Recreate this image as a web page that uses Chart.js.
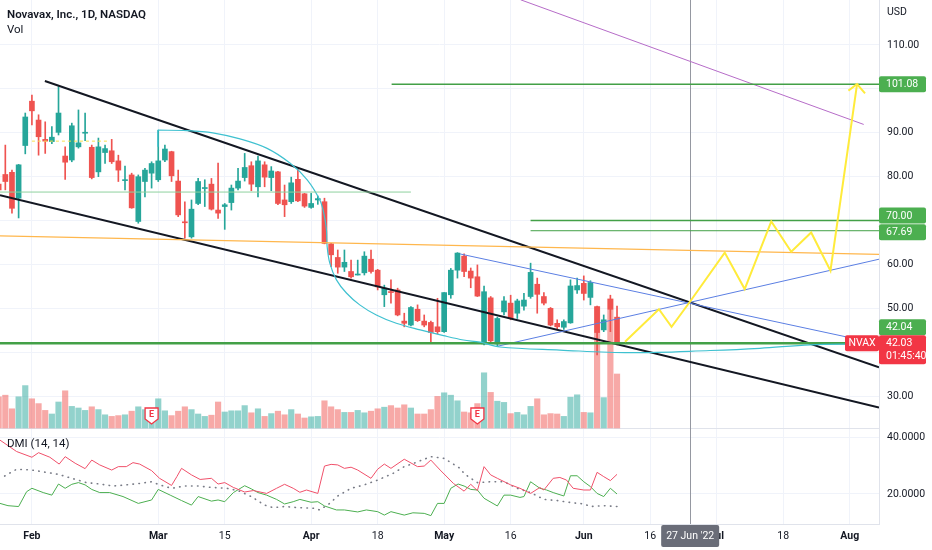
<!DOCTYPE html>
<html>
<head>
<meta charset="utf-8">
<script src="https://cdn.jsdelivr.net/npm/chart.js@4.4.1/dist/chart.umd.min.js"></script>
<style>
  html, body { margin: 0; padding: 0; background: #fff; }
  #wrap { width: 932px; height: 550px; }
</style>
</head>
<body>
<div id="wrap"><canvas id="chart" width="932" height="550"></canvas></div>
<script>
// x values are trading-day indexes, 0 = 1 Feb 2022
const firstBar = -5;
const opens  = [78.3,80.5,81.0,75.1,87.1,97.2,92.9,88.5,88.0,90.1,84.7,83.8,86.8,89.9,86.7,81.1,85.5,85.9,83.6,79.1,80.4,69.8,78.9,80.8,79.3,83.8,85.7,79.0,69.7,66.3,73.9,77.3,78.3,72.4,73.2,74.1,77.4,79.8,82.5,77.7,82.7,79.8,81.1,74.7,74.3,79.4,76.1,73.0,74.7,74.3,64.7,61.6,59.4,58.4,57.6,58.1,61.2,58.7,53.1,53.8,54.2,47.1,46.2,49.8,47.1,46.8,45.8,44.7,53.1,58.7,61.9,58.5,57.2,41.9,52.4,41.9,49.2,51.2,48.9,50.5,52.7,55.5,52.7,50.0,46.6,45.7,46.7,54.2,55.7,52.5,50.4,45.1,52.1,48.0];
const highs  = [78.8,87.2,81.5,82.8,94.5,98.6,94.1,92.5,91.4,100.5,86.8,92.2,95.2,94.5,87.2,88.8,87.2,88.5,84.9,82.4,80.8,80.4,81.9,83.4,90.6,87.2,85.8,81.5,74.3,74.7,79.6,79.3,79.6,83.1,73.9,78.1,81.9,85.3,83.4,84.7,83.4,82.3,81.2,78.1,79.9,81.7,76.2,76.2,75.6,75.1,64.8,63.3,63.3,61.0,61.0,62.9,63.3,58.9,55.3,56.5,54.6,48.9,50.4,50.8,48.5,47.1,52.3,53.6,59.1,62.7,62.4,59.2,59.9,55.1,52.7,48.0,52.7,53.0,52.1,53.4,60.3,56.9,53.6,50.2,47.4,47.4,56.5,56.9,57.4,56.3,50.5,48.5,53.0,50.5];
const lows   = [76.5,77.0,71.7,70.6,85.2,91.8,84.9,85.3,87.5,89.5,79.4,83.4,86.5,88.2,79.5,80.0,83.0,83.0,78.9,77.0,72.8,69.4,75.4,77.4,78.9,83.4,78.9,70.9,66.0,66.0,73.6,73.2,72.4,70.5,68.0,72.4,77.0,79.0,76.8,75.4,77.7,76.8,73.6,70.9,73.9,74.3,73.0,72.8,73.7,64.7,59.5,58.0,58.4,56.9,57.6,57.6,58.0,54.2,50.4,51.2,48.3,45.8,46.0,47.0,45.8,42.1,44.2,44.5,52.3,56.9,57.2,54.7,52.7,41.7,42.4,41.4,48.5,47.4,47.7,49.6,52.3,48.9,50.8,46.0,45.2,45.2,46.6,53.4,51.9,50.8,39.4,44.7,44.7,41.7];
const closes = [77.0,78.9,72.8,82.7,93.6,95.0,89.1,88.1,89.0,94.5,83.3,91.6,87.7,90.1,79.8,86.8,86.4,83.4,81.5,79.3,72.9,80.0,81.5,83.0,83.6,86.3,80.2,71.3,69.5,72.6,78.9,77.5,72.6,71.7,73.6,77.4,79.0,82.1,78.3,83.6,79.9,81.3,73.9,73.6,78.6,74.5,73.3,73.9,75.0,64.8,62.2,59.4,60.5,57.2,57.8,61.9,58.4,54.9,54.6,53.6,48.5,46.6,50.2,47.2,46.2,44.5,44.7,53.6,58.7,62.6,58.4,56.9,52.8,53.8,42.6,47.7,51.7,47.7,51.7,51.9,58.2,53.2,51.2,46.2,45.8,47.0,55.1,55.2,53.4,55.9,44.5,47.4,49.8,42.03];
// volume, millions of shares
const volumes = [7.8,8.2,4.8,7.8,10.6,7.3,6.1,4.4,3.5,6.5,9.3,5.4,5.0,4.4,5.3,4.6,3.3,2.9,3.1,3.3,4.2,5.3,4.6,3.8,7.3,4.3,3.1,4.2,5.3,4.6,3.5,2.9,3.2,6.5,4.0,4.3,4.3,5.6,3.8,4.8,2.9,3.6,4.2,3.3,4.6,3.5,2.5,2.8,2.9,6.8,5.3,4.6,3.9,3.9,4.4,3.8,4.2,4.8,5.2,5.6,5.0,5.8,5.0,3.5,3.5,4.6,7.9,8.8,8.2,6.8,4.0,3.8,6.1,13.8,8.9,6.7,6.4,3.6,3.9,3.3,5.4,7.3,3.3,3.6,3.5,2.9,7.7,8.3,3.9,3.8,30.3,7.6,32.3,13.5];

// DMI (14, 14): [index, value]
const plusDI = [[-4.8,38.9],[-2.3,34.9],[0,32.9],[1,34.5],[2.7,32.9],[4.1,30.5],[5,33.1],[6.5,30.8],[8,28.9],[9,31.9],[10.2,30.2],[12,28.4],[13,29.6],[14.2,29.6],[15.2,31.0],[16.2,30.5],[18,28.2],[19.2,25.5],[21,23.0],[21.8,26.1],[22.5,29.0],[24,26.7],[25.3,25.1],[27,25.5],[28,23.5],[29,24.0],[30.3,22.3],[32,20.7],[33.3,21.2],[35.3,20.2],[36.8,22.0],[38,23.4],[39.3,22.0],[40.3,20.6],[41.3,21.4],[43,20.2],[44,29.8],[45,30.4],[46,30.2],[47,29.0],[48,29.4],[49,28.4],[51,25.5],[52,28.7],[53,30.5],[54,29.0],[56,32.2],[58,29.6],[59,29.8],[60,31.9],[61.4,28.4],[63.4,23.7],[65,21.0],[66,23.4],[67,21.2],[68,29.6],[69,26.7],[70,25.5],[72,23.2],[73.4,22.0],[75,20.2],[76.4,22.3],[77,21.4],[78.4,25.5],[79.4,25.8],[80.4,24.9],[81.4,22.0],[83,21.4],[84,21.4],[85,27.6],[86,26.1],[87,24.7],[88,26.9]];
const minusDI = [[-4.8,16.7],[-3.6,15.9],[-2,15.6],[-0.8,20.8],[0,22.0],[1.7,20.5],[3,19.6],[4,23.5],[5,22.0],[6,23.4],[7,24.0],[8,23.2],[9,21.6],[10.2,20.5],[11.7,20.5],[13.7,19.1],[16,16.7],[18,17.9],[19,21.6],[20.8,19.6],[22.5,17.7],[24,16.1],[25,19.1],[27,17.5],[28,17.9],[29,17.3],[30.3,20.5],[32,22.9],[33,21.8],[34,20.5],[35.3,19.6],[36.8,18.1],[38,16.5],[39.3,17.3],[40.3,18.1],[42,17.1],[43,17.3],[44,15.8],[45.8,14.4],[47,14.4],[49,13.7],[50.3,14.4],[52,13.8],[53,12.6],[54,13.8],[56,12.6],[57.3,13.4],[59,13.2],[60,12.4],[61,16.7],[62,16.7],[63,22.0],[64.1,23.5],[65,22.8],[66,21.6],[67,21.4],[68,18.5],[70,15.8],[71,19.6],[72,19.6],[73.4,18.8],[74,19.1],[75,24.3],[76.4,22.0],[77.4,21.4],[78.4,20.5],[80,19.3],[81,26.4],[82,26.4],[83,24.3],[84,22.6],[85,20.2],[86,19.1],[87,22.0],[88,20.0]];
const adx = [[-4.1,26.3],[-2.3,28.7],[0,28.4],[4,26.9],[6,25.5],[8.2,24.0],[10.2,23.5],[12.2,22.8],[14.2,23.2],[16.2,23.7],[18,24.3],[19.2,23.2],[21,22.0],[23,22.8],[25,22.8],[27,22.3],[29.3,22.0],[31,21.2],[33,19.1],[35,16.1],[36.3,15.2],[38,15.6],[40,15.2],[42.3,15.0],[43.3,14.4],[44.8,16.7],[46,19.3],[48,22.0],[50,23.2],[52,24.9],[54.3,27.2],[56,29.6],[58,31.3],[60,33.1],[62,32.5],[64.4,29.0],[65,27.2],[66,25.5],[67,24.0],[69,24.3],[71,24.3],[73,22.0],[75,20.5],[77,18.1],[79,17.7],[81,17.0],[83,16.5],[84,15.6],[86,15.9],[88,15.6]];

// axis ticks
const tickIdx    = [0, 19, 29, 42, 52, 62, 72, 83, 93, 103, 113, 123];
const tickLabels = ['Feb', 'Mar', '15', 'Apr', '18', 'May', '16', 'Jun', '16', 'Jul', '18', 'Aug'];
const priceTicks = [30, 40, 50, 60, 70, 80, 90, 100, 110];
const dmiTicks   = [20, 40];

// drawn levels (horizontal lines with axis tags)
const levels     = [101.08, 70.00, 67.69, 42.04];
const levelStart = [54.1, 75, 75, -4.8];
const levelWidth = [1.5, 1.5, 1, 2.5];
const tagShift   = [0, -5, 1.5, -16];   // tags nudged apart where they collide
const earningsIdx = [18, 67];
const cursorIdx = 99;
const cursorLabel = "27 Jun '22";
const countdown = '01:45:40';

// trend drawings: [index, price]
const blackUpper = [[1.95, 101.8], [127.4, 36.6]];
const blackLower = [[-4.8, 75.8], [127.4, 27.4]];
const orangeLine = [[-4.8, 66.5], [127.4, 62.3]];
const thinGreen  = [[-4.8, 76.5], [57, 76.5]];
const yellowDash = [[0, 88.1], [11.7, 88.1]];
const blueUpper  = [[64.4, 62.4], [122.5, 43.5]];
const blueLower  = [[70.1, 41.4], [127.4, 61.2]];
const purpleLine = [[73.5, 120.3], [125.1, 91.9]];
const cyanTick   = [[18.95, 86.8], [18.95, 90.6]];
const cyanArc    = [[18.95,90.6],[23.3,90.5],[27.2,90.0],[31.3,88.6],[35.3,86.5],[38.8,83.1],[41.4,79.3],[43.3,74.7],[43.9,71.7],[44.3,67.9],[44.4,64.1],[44.8,60.3],[45.8,56.5],[47.3,53.5],[49.3,50.8],[51.8,48.5],[54.8,46.6],[58.4,45.1],[61.9,43.8],[64.9,42.8],[67.4,42.3],[70.4,41.2],[79.4,40.5],[89.9,39.9],[102,40.4],[109.5,40.9],[117,41.7],[124.5,41.9]];
const yellowPath = [[89.2,42.4],[94.3,49.8],[96.2,45.8],[99.1,51.8],[104.2,62.7],[107.2,54.4],[111.2,69.8],[114.2,62.9],[117.2,67.3],[120.1,58.6],[124.1,101.1]];
const arrowHead  = [[122.8,99.6],[124.1,101.1],[125.3,99.0]];

const FONT = 'Roboto, "Noto Sans", sans-serif';
const UP = '#26a69a', DOWN = '#ef5350';
const GREEN = '#4caf50';

const isUp = opens.map((o, i) => closes[i] >= o);
const pts = arr => arr.map(([x, y]) => ({ x, y }));

function drawing(points, color, width, extra) {
  return Object.assign({
    type: 'line', data: pts(points), borderColor: color, borderWidth: width,
    pointRadius: 0, tension: 0, fill: false, yAxisID: 'yPrice', order: 2
  }, extra || {});
}

const datasets = [
  {
    type: 'bar', label: 'Vol', yAxisID: 'yVol', order: 20, grouped: false, barThickness: 5.5,
    data: volumes.map((v, i) => ({ x: firstBar + i, y: v })),
    backgroundColor: isUp.map(u => u ? 'rgba(38,166,154,0.5)' : 'rgba(239,83,80,0.5)')
  },
  {
    type: 'bar', label: 'wick', yAxisID: 'yPrice', order: 9, grouped: false, barThickness: 1,
    data: lows.map((l, i) => ({ x: firstBar + i, y: [l, highs[i]] })),
    backgroundColor: isUp.map(u => u ? UP : DOWN)
  },
  {
    type: 'bar', label: 'body', yAxisID: 'yPrice', order: 8, grouped: false, barThickness: 5, minBarLength: 1,
    data: opens.map((o, i) => ({ x: firstBar + i, y: [o, closes[i]] })),
    backgroundColor: isUp.map(u => u ? UP : DOWN)
  },
  drawing(thinGreen, '#8fd19e', 1),
  drawing(yellowDash, '#f7e04b', 1, { borderDash: [3, 3] }),
  drawing(orangeLine, '#ffb74d', 1.2),
  drawing(cyanTick, '#3fc1d0', 1.2),
  drawing(cyanArc, '#3fc1d0', 1.2, { tension: 0.35 }),
  ...levels.map((lv, i) => drawing([[levelStart[i], lv], [127.4, lv]], '#43a047', levelWidth[i])),
  drawing(blueUpper, '#5b7fe3', 1),
  drawing(blueLower, '#5b7fe3', 1),
  drawing(purpleLine, '#b66cc8', 1),
  drawing(blackUpper, '#131722', 2),
  drawing(blackLower, '#131722', 2),
  drawing(yellowPath, '#ffeb3b', 2, { order: 1 }),
  drawing(arrowHead, '#ffeb3b', 2, { order: 1 }),
  {
    type: 'line', label: '+DI', yAxisID: 'yDmi', order: 3, data: pts(plusDI),
    borderColor: '#f0506a', borderWidth: 1, pointRadius: 0, tension: 0
  },
  {
    type: 'line', label: '-DI', yAxisID: 'yDmi', order: 3, data: pts(minusDI),
    borderColor: GREEN, borderWidth: 1, pointRadius: 0, tension: 0
  },
  {
    type: 'line', label: 'ADX', yAxisID: 'yDmi', order: 4, data: pts(adx),
    borderColor: '#787b86', borderWidth: 1.6, borderDash: [0.5, 5.5], borderCapStyle: 'round',
    pointRadius: 0, tension: 0
  }
];

function roundBox(ctx, x, y, w, h, r, color) {
  ctx.fillStyle = color;
  ctx.beginPath();
  ctx.roundRect(x, y, w, h, r);
  ctx.fill();
}

// drop the half-label padding Chart.js reserves so panes touch the edges
function noPad(s) {
  s.paddingTop = 0; s.paddingBottom = 0; s.paddingLeft = 0; s.paddingRight = 0;
}

const overlay = {
  id: 'overlay',
  beforeDatasetsDraw(chart) {
    const { ctx, chartArea, scales } = chart;
    ctx.save();
    // pane separator
    ctx.strokeStyle = '#e0e3eb';
    ctx.lineWidth = 1;
    ctx.beginPath();
    ctx.moveTo(chartArea.left, Math.round(scales.yDmi.top) + 0.5);
    ctx.lineTo(chartArea.right, Math.round(scales.yDmi.top) + 0.5);
    ctx.stroke();
    // crosshair line
    const cx = Math.round(scales.x.getPixelForValue(cursorIdx)) + 0.5;
    ctx.strokeStyle = '#9598a1';
    ctx.beginPath();
    ctx.moveTo(cx, 0);
    ctx.lineTo(cx, chartArea.bottom);
    ctx.stroke();
    ctx.restore();
  },
  afterDraw(chart) {
    const { ctx, chartArea, scales } = chart;
    const yP = scales.yPrice, xS = scales.x;
    const axX = chartArea.right;
    ctx.save();
    ctx.textBaseline = 'middle';

    // earnings markers
    const base = scales.yVol.getPixelForValue(0);
    earningsIdx.forEach(i => {
      const x = xS.getPixelForValue(i), t = base - 20;
      ctx.beginPath();
      ctx.moveTo(x - 6.5, t); ctx.lineTo(x + 6.5, t); ctx.lineTo(x + 6.5, t + 11);
      ctx.lineTo(x, t + 16); ctx.lineTo(x - 6.5, t + 11); ctx.closePath();
      ctx.fillStyle = '#fff'; ctx.fill();
      ctx.strokeStyle = '#f23645'; ctx.lineWidth = 1.3; ctx.stroke();
      ctx.fillStyle = '#f23645'; ctx.font = 'bold 9px ' + FONT; ctx.textAlign = 'center';
      ctx.fillText('E', x, t + 6.5);
    });

    // level tags on the price axis
    ctx.textAlign = 'left';
    ctx.font = '10.5px ' + FONT;
    levels.forEach((lv, i) => {
      const y = yP.getPixelForValue(lv) + tagShift[i];
      roundBox(ctx, axX, y - 8, 47, 16, 2, GREEN);
      ctx.fillStyle = '#fff';
      ctx.fillText(lv.toFixed(2), axX + 7, y + 0.5);
    });

    // last price tag
    const last = closes[closes.length - 1];
    const yl = yP.getPixelForValue(last);
    roundBox(ctx, axX, yl - 8, 47, 29, 2, '#f23645');
    roundBox(ctx, axX - 34, yl - 8, 34, 16, 2, '#f23645');
    ctx.fillStyle = '#fff';
    ctx.fillText(last.toFixed(2), axX + 7, yl + 0.5);
    ctx.fillText(countdown, axX + 7, yl + 13.5);
    ctx.textAlign = 'center';
    ctx.fillText('NVAX', axX - 17, yl + 0.5);

    // cursor date tag
    const cx = xS.getPixelForValue(cursorIdx);
    roundBox(ctx, cx - 29, chartArea.bottom + 1, 58, 22, 2, '#6a6d78');
    ctx.fillStyle = '#fff';
    ctx.fillText(cursorLabel, cx, chartArea.bottom + 12);

    // legends
    ctx.textAlign = 'left';
    ctx.fillStyle = '#131722';
    ctx.font = '600 11.5px ' + FONT;
    ctx.fillText('Novavax, Inc., 1D, NASDAQ', 7, 15);
    ctx.font = '11.5px ' + FONT;
    ctx.fillText('Vol', 7, 30);
    ctx.fillText('DMI (14, 14)', 7, scales.yDmi.top + 16);
    ctx.font = '10.5px ' + FONT;
    ctx.fillText('USD', axX + 8, 12);
    ctx.restore();
  }
};

new Chart(document.getElementById('chart'), {
  type: 'bar',
  data: { datasets },
  plugins: [overlay],
  options: {
    responsive: false,
    animation: false,
    events: [],
    layout: { padding: 0 },
    plugins: { legend: { display: false }, tooltip: { enabled: false } },
    scales: {
      x: {
        type: 'linear', min: -4.8, max: 127.4, offset: false,
        afterBuildTicks: s => { s.ticks = tickIdx.map(v => ({ value: v })); },
        afterFit: s => { s.height = 26; noPad(s); },
        grid: { color: '#f0f3fa', drawTicks: false, offset: false },
        border: { color: '#e0e3eb' },
        ticks: {
          padding: 6, maxRotation: 0, autoSkip: false, color: '#131722',
          callback: (v, i) => tickLabels[i],
          font: c => ({ family: FONT, size: 10.5, weight: /^[A-Z]/.test(tickLabels[c.index] || '') ? 'bold' : 'normal' })
        }
      },
      yPrice: {
        type: 'linear', position: 'right', stack: 'pane', stackWeight: 428,
        min: 22.75, max: 120.25,
        afterBuildTicks: s => { s.ticks = priceTicks.map(v => ({ value: v })); },
        afterFit: s => { s.width = 53; noPad(s); },
        grid: { color: '#f0f3fa', drawTicks: false },
        border: { color: '#e0e3eb' },
        ticks: { padding: 8, color: '#131722', font: { family: FONT, size: 10.5 }, callback: v => v.toFixed(2) }
      },
      yDmi: {
        type: 'linear', position: 'right', stack: 'pane', stackWeight: 96,
        min: 9.47, max: 43.16,
        afterBuildTicks: s => { s.ticks = dmiTicks.map(v => ({ value: v })); },
        afterFit: s => { s.width = 53; noPad(s); },
        grid: { color: '#f0f3fa', drawTicks: false },
        border: { color: '#e0e3eb' },
        ticks: { padding: 8, color: '#131722', font: { family: FONT, size: 10.5 }, callback: v => v.toFixed(4) }
      },
      yVol: { type: 'linear', display: false, min: -24, max: 107 }
    }
  }
});
</script>
</body>
</html>
